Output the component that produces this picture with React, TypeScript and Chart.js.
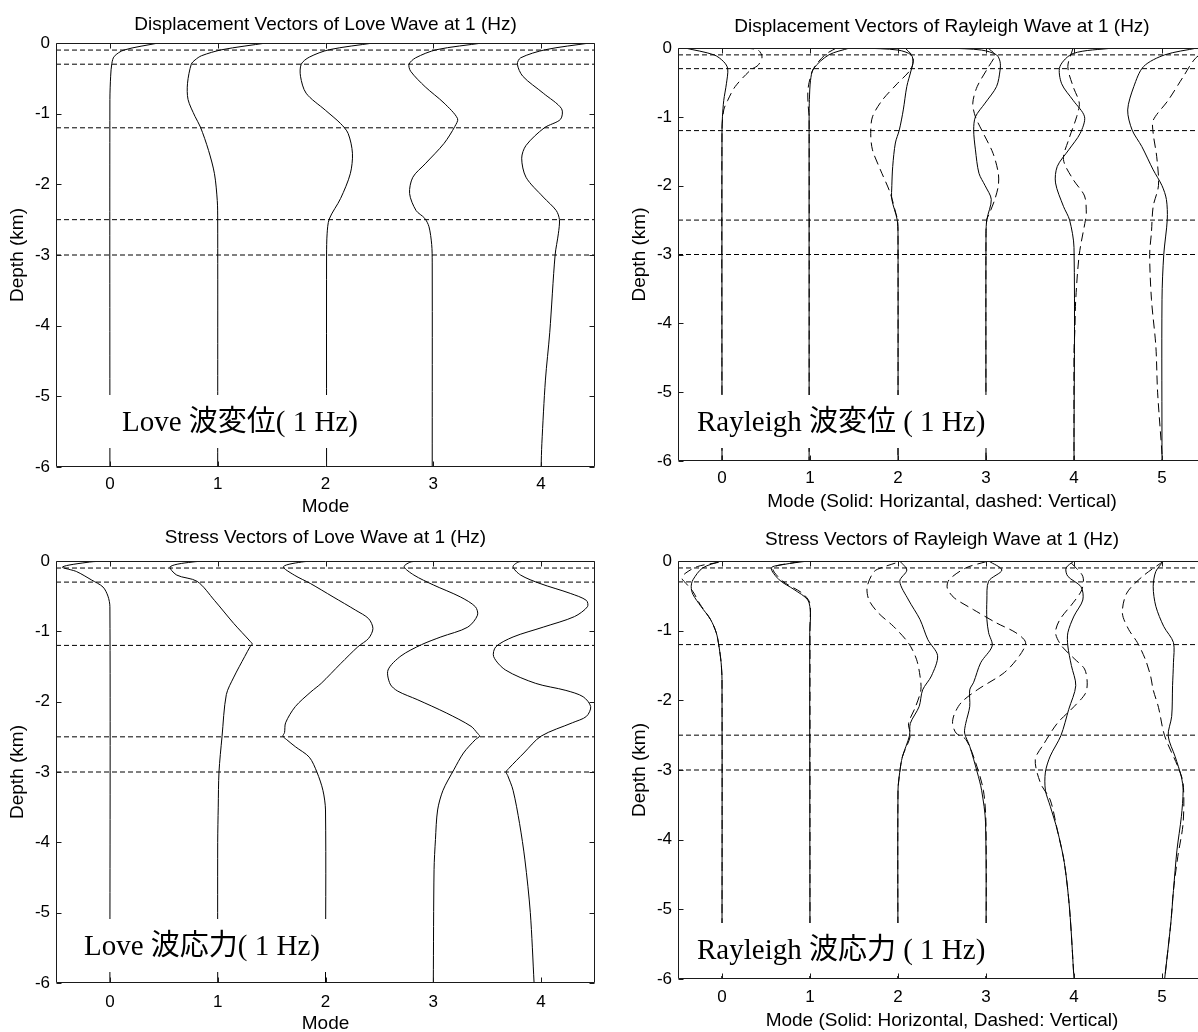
import { useEffect, useRef } from "react";
import { Chart, registerables } from "chart.js";

Chart.register(...registerables);

// ---- shared axis values ----
const layerDepths = [-0.1, -0.3, -1.2, -2.5, -3.0];
const depthTicks = [0, -1, -2, -3, -4, -5, -6];
const loveModes = [0, 1, 2, 3, 4];
const rayleighModes = [0, 1, 2, 3, 4, 5];

// ---- curves: [mode-axis position, depth (km)] ----
// Love wave displacement
const loveDisp0 = [[0.45, 0], [0.13, -0.1], [0.04, -0.19], [0.018, -0.29], [0.007, -0.47], [0, -0.8], [0, -6]];
const loveDisp1 = [[1.45, 0], [1.04, -0.095], [0.85, -0.18], [0.79, -0.24], [0.755, -0.3], [0.72, -0.57], [0.725, -0.8], [0.79, -1.04], [0.84, -1.19], [0.915, -1.52], [0.97, -1.85], [0.996, -2.23], [1.0, -2.5], [1.0, -6]];
const loveDisp2 = [[2.443, 0], [2.035, -0.095], [1.85, -0.2], [1.775, -0.3], [1.768, -0.47], [1.82, -0.71], [1.998, -0.95], [2.14, -1.14], [2.21, -1.28], [2.25, -1.56], [2.23, -1.85], [2.14, -2.2], [2.035, -2.49], [2.015, -2.7], [2.01, -3.0], [2.01, -6]];
const loveDisp3 = [[3.456, 0], [3.03, -0.095], [2.836, -0.21], [2.775, -0.3], [2.79, -0.4], [2.925, -0.62], [3.1, -0.85], [3.225, -1.07], [3.2, -1.18], [3.1, -1.42], [2.925, -1.71], [2.81, -1.9], [2.78, -2.13], [2.84, -2.37], [2.92, -2.48], [2.96, -2.6], [2.985, -2.85], [2.99, -3.1], [2.99, -6]];
const loveDisp4 = [[4.45, 0], [4.04, -0.095], [3.81, -0.21], [3.78, -0.3], [3.83, -0.47], [4.02, -0.71], [4.19, -0.93], [4.18, -1.08], [4.03, -1.2], [3.86, -1.45], [3.82, -1.63], [3.86, -1.9], [4.02, -2.18], [4.14, -2.37], [4.17, -2.5], [4.16, -2.7], [4.13, -3.0], [4.08, -4.1], [4.04, -4.77], [4.007, -5.67], [4.0, -6]];

// Rayleigh wave displacement (H = horizontal, V = vertical)
const rayDisp0H = [[-0.42, 0], [-0.09, -0.1], [0.02, -0.2], [0.065, -0.3], [0.05, -0.52], [0.02, -0.76], [0.005, -1.0], [0, -1.2], [0, -6]];
const rayDisp0V = [[0.26, 0], [0.41, -0.03], [0.455, -0.13], [0.41, -0.25], [0.325, -0.32], [0.15, -0.56], [0.065, -0.76], [0.02, -0.9], [0, -1.2], [0, -6]];
const rayDisp1H = [[1.45, 0], [1.214, -0.1], [1.04, -0.3], [1.006, -0.47], [0.993, -0.75], [0.99, -1.0], [0.99, -6]];
const rayDisp1V = [[1.3, 0], [1.17, -0.1], [1.04, -0.3], [0.99, -0.5], [0.975, -0.65], [0.98, -0.85], [0.99, -1.0], [0.99, -6]];
const rayDisp2H = [[1.6, 0], [2.0, -0.03], [2.15, -0.1], [2.17, -0.2], [2.15, -0.32], [2.1, -0.56], [2.06, -0.9], [2.015, -1.19], [1.97, -1.38], [1.94, -1.72], [1.93, -2.0], [1.93, -2.2], [1.99, -2.49], [2.0, -2.7], [2.0, -6]];
const rayDisp2V = [[2.08, 0], [2.17, -0.13], [2.15, -0.3], [1.99, -0.52], [1.82, -0.76], [1.71, -1.0], [1.69, -1.24], [1.71, -1.48], [1.8, -1.77], [1.91, -2.1], [1.975, -2.4], [1.995, -2.5], [2.0, -2.7], [2.0, -6]];
const rayDisp3H = [[2.56, 0], [2.95, -0.03], [3.12, -0.1], [3.16, -0.2], [3.16, -0.32], [3.12, -0.56], [2.99, -0.8], [2.88, -1.0], [2.86, -1.19], [2.88, -1.48], [2.92, -1.82], [2.99, -2.0], [3.06, -2.2], [3.01, -2.49], [3.0, -2.7], [3.0, -6]];
const rayDisp3V = [[3.02, 0], [3.1, -0.1], [3.03, -0.27], [2.9, -0.56], [2.85, -0.8], [2.88, -1.0], [2.97, -1.24], [3.08, -1.53], [3.14, -1.82], [3.14, -2.0], [3.1, -2.2], [3.04, -2.4], [3.01, -2.49], [3.0, -2.7], [3.0, -6]];
const rayDisp4H = [[4.44, 0], [3.99, -0.08], [3.84, -0.27], [3.86, -0.52], [3.99, -0.76], [4.12, -1.0], [4.07, -1.24], [3.94, -1.48], [3.81, -1.72], [3.79, -1.96], [3.88, -2.3], [3.95, -2.5], [4.0, -2.9], [4.0, -6]];
const rayDisp4V = [[3.99, 0], [3.93, -0.27], [3.99, -0.56], [4.06, -0.8], [4.03, -1.0], [3.94, -1.33], [3.88, -1.62], [3.99, -1.91], [4.12, -2.15], [4.14, -2.4], [4.13, -2.5], [4.06, -3.0], [4.02, -3.65], [4.01, -4.1], [4.0, -4.4], [4.0, -6]];
const rayDisp5H = [[5.4, 0], [5.03, -0.1], [4.79, -0.27], [4.68, -0.56], [4.61, -0.9], [4.66, -1.19], [4.77, -1.43], [4.9, -1.77], [5.0, -2.0], [5.05, -2.2], [5.06, -2.49], [5.02, -3.0], [5.0, -3.65], [5.0, -6]];
const rayDisp5V = [[5.55, 0], [5.38, -0.15], [5.24, -0.42], [5.07, -0.76], [4.9, -1.05], [4.9, -1.24], [4.94, -1.58], [4.96, -2.0], [4.9, -2.3], [4.88, -2.68], [4.86, -3.0], [4.88, -3.65], [4.93, -4.33], [4.95, -5.0], [5.0, -5.9], [5.0, -6]];

// Love wave stress
const loveStress0 = [[-0.035, 0], [-0.19, -0.015], [-0.44, -0.085], [-0.31, -0.15], [-0.17, -0.27], [-0.064, -0.37], [-0.018, -0.5], [0, -0.65], [0, -6]];
const loveStress1 = [[0.97, 0], [0.79, -0.01], [0.56, -0.08], [0.62, -0.2], [0.81, -0.29], [0.97, -0.56], [1.15, -0.89], [1.3, -1.14], [1.32, -1.18], [1.3, -1.22], [1.25, -1.36], [1.15, -1.65], [1.08, -1.9], [1.04, -2.5], [1.012, -3.0], [1.005, -3.5], [1.0, -4.0], [1.0, -6]];
const loveStress2 = [[1.96, 0], [1.8, -0.01], [1.61, -0.08], [1.71, -0.2], [1.86, -0.32], [2.07, -0.51], [2.28, -0.7], [2.4, -0.82], [2.44, -0.96], [2.4, -1.1], [2.3, -1.22], [2.14, -1.46], [1.96, -1.74], [1.865, -1.86], [1.72, -2.07], [1.63, -2.3], [1.62, -2.44], [1.605, -2.49], [1.64, -2.54], [1.72, -2.64], [1.85, -2.79], [1.92, -3.0], [1.976, -3.26], [2.0, -3.54], [2.0, -6]];
const loveStress3 = [[2.94, 0], [2.8, -0.01], [2.73, -0.08], [2.82, -0.2], [3.0, -0.34], [3.25, -0.51], [3.39, -0.65], [3.41, -0.77], [3.32, -0.94], [3.07, -1.08], [2.89, -1.19], [2.7, -1.35], [2.58, -1.55], [2.6, -1.75], [2.67, -1.85], [2.85, -1.97], [3.12, -2.16], [3.35, -2.35], [3.41, -2.45], [3.43, -2.49], [3.39, -2.54], [3.28, -2.73], [3.19, -2.97], [3.09, -3.26], [3.04, -3.54], [3.02, -3.96], [3.007, -4.39], [3.0, -6]];
const loveStress4 = [[3.96, 0], [3.8, -0.01], [3.74, -0.08], [3.81, -0.2], [3.99, -0.32], [4.27, -0.46], [4.42, -0.56], [4.43, -0.65], [4.31, -0.79], [4.02, -0.94], [3.74, -1.08], [3.58, -1.22], [3.56, -1.36], [3.67, -1.55], [3.95, -1.74], [4.23, -1.84], [4.39, -1.93], [4.46, -2.07], [4.42, -2.21], [4.29, -2.3], [4.0, -2.49], [3.84, -2.73], [3.7, -2.95], [3.675, -3.0], [3.69, -3.05], [3.74, -3.26], [3.8, -3.73], [3.85, -4.25], [3.9, -5.0], [3.935, -6]];

// Rayleigh wave stress (H = horizontal, V = vertical)
const rayStress0H = [[-0.01, 0], [-0.22, -0.1], [-0.33, -0.27], [-0.35, -0.37], [-0.33, -0.48], [-0.24, -0.65], [-0.13, -0.84], [-0.065, -1.03], [-0.035, -1.22], [-0.01, -1.46], [0, -1.7], [0, -6]];
const rayStress0V = [[-0.04, -0.02], [-0.28, -0.08], [-0.42, -0.18], [-0.455, -0.25], [-0.41, -0.32], [-0.33, -0.44], [-0.25, -0.62], [-0.13, -0.84], [-0.065, -1.03], [-0.035, -1.22], [-0.01, -1.46], [0, -1.7], [0, -6]];
const rayStress1H = [[0.975, 0], [0.7, -0.05], [0.56, -0.1], [0.65, -0.27], [0.82, -0.41], [0.975, -0.56], [1.005, -0.75], [0.997, -1.03], [1.0, -6]];
const rayStress1V = [[0.87, -0.01], [0.58, -0.1], [0.69, -0.29], [0.91, -0.46], [0.997, -0.6], [1.0, -0.9], [1.0, -6]];
const rayStress2H = [[2.02, 0], [2.1, -0.13], [2.02, -0.29], [2.12, -0.56], [2.25, -0.84], [2.34, -1.13], [2.45, -1.36], [2.38, -1.65], [2.28, -1.85], [2.24, -2.09], [2.14, -2.33], [2.13, -2.51], [2.05, -2.81], [2.02, -3.03], [2.0, -3.29], [2.0, -6]];
const rayStress2V = [[1.97, -0.03], [1.85, -0.08], [1.73, -0.15], [1.65, -0.37], [1.67, -0.56], [1.78, -0.75], [1.95, -0.94], [2.12, -1.18], [2.21, -1.41], [2.25, -1.65], [2.26, -1.85], [2.2, -2.09], [2.12, -2.33], [2.14, -2.51], [2.05, -2.81], [2.02, -3.03], [2.0, -3.3], [2.0, -6]];
const rayStress3H = [[3.03, 0], [3.18, -0.13], [3.03, -0.29], [3.01, -0.56], [3.01, -0.84], [3.03, -1.03], [3.07, -1.22], [2.94, -1.46], [2.86, -1.74], [2.815, -1.85], [2.815, -2.09], [2.77, -2.33], [2.757, -2.47], [2.815, -2.66], [2.9, -3.03], [2.95, -3.29], [2.995, -3.76], [3.0, -6]];
const rayStress3V = [[3.0, -0.01], [2.77, -0.1], [2.58, -0.27], [2.56, -0.39], [2.64, -0.53], [2.86, -0.7], [3.12, -0.89], [3.34, -1.03], [3.45, -1.17], [3.38, -1.36], [3.21, -1.6], [2.9, -1.85], [2.72, -2.03], [2.64, -2.2], [2.62, -2.33], [2.66, -2.47], [2.77, -2.56], [2.87, -2.85], [2.97, -3.29], [3.0, -3.8], [3.0, -6]];
const rayStress4H = [[4.0, 0], [3.91, -0.1], [3.93, -0.22], [4.08, -0.37], [4.1, -0.56], [4.0, -0.79], [3.93, -1.03], [3.93, -1.22], [3.97, -1.5], [4.02, -1.79], [3.94, -2.13], [3.85, -2.51], [3.73, -2.8], [3.675, -3.03], [3.675, -3.29], [3.73, -3.52], [3.81, -3.86], [3.89, -4.33], [3.95, -5.0], [4.0, -6]];
const rayStress4V = [[3.97, -0.03], [4.1, -0.22], [4.09, -0.41], [3.99, -0.6], [3.84, -0.84], [3.79, -1.03], [3.86, -1.22], [4.01, -1.41], [4.12, -1.55], [4.15, -1.74], [4.13, -1.9], [4.0, -2.09], [3.81, -2.33], [3.66, -2.62], [3.56, -2.85], [3.62, -3.19], [3.73, -3.43], [3.81, -3.86], [3.89, -4.33], [3.95, -5.0], [4.0, -6]];
const rayStress5H = [[5.02, 0], [4.93, -0.15], [4.9, -0.37], [4.93, -0.65], [5.02, -0.94], [5.13, -1.17], [5.13, -1.46], [5.12, -1.79], [5.11, -2.23], [5.07, -2.51], [5.15, -2.81], [5.22, -3.1], [5.24, -3.29], [5.22, -3.67], [5.17, -4.15], [5.13, -4.73], [5.1, -5.2], [5.03, -6]];
const rayStress5V = [[5.02, 0], [4.78, -0.22], [4.6, -0.46], [4.55, -0.75], [4.62, -0.98], [4.72, -1.17], [4.81, -1.41], [4.87, -1.65], [4.9, -1.85], [4.96, -2.1], [5.03, -2.51], [5.18, -2.95], [5.24, -3.19], [5.24, -3.76], [5.18, -4.24], [5.13, -4.73], [5.1, -5.2], [5.03, -6]];

// ---- text ----
const SANS = '"Liberation Sans", Arial, Helvetica, sans-serif';
const NOTE_FONT = '29px "Liberation Serif", "Times New Roman", "Noto Sans CJK JP", serif';
const TITLE_SIZE = 19;
const TICK_SIZE = 17;

const panels = [
  {
    title: "Displacement Vectors of Love Wave at 1 (Hz)",
    xTitle: "Mode",
    note: "Love 波変位( 1 Hz)",
    modes: loveModes,
    xMax: 4.5,
    solid: [loveDisp0, loveDisp1, loveDisp2, loveDisp3, loveDisp4],
    dashed: [],
    canvas: { left: 0, top: 0, width: 600, height: 525 },
    plot: { left: 56, top: 43, right: 595, bottom: 467 },
    titleY: 25, tickY: 484, xTitleY: 507, yTitleX: 18,
    noteX: 122, noteY: 423,
  },
  {
    title: "Displacement Vectors of Rayleigh Wave at 1 (Hz)",
    xTitle: "Mode (Solid: Horizantal, dashed: Vertical)",
    note: "Rayleigh 波変位 ( 1 Hz)",
    modes: rayleighModes,
    xMax: 5.5,
    solid: [rayDisp0H, rayDisp1H, rayDisp2H, rayDisp3H, rayDisp4H, rayDisp5H],
    dashed: [rayDisp0V, rayDisp1V, rayDisp2V, rayDisp3V, rayDisp4V, rayDisp5V],
    canvas: { left: 600, top: 0, width: 620, height: 525 },
    plot: { left: 678, top: 48, right: 1206, bottom: 461 },
    titleY: 27, tickY: 478, xTitleY: 502, yTitleX: 640,
    noteX: 697, noteY: 423,
  },
  {
    title: "Stress Vectors of Love Wave at 1 (Hz)",
    xTitle: "Mode",
    note: "Love 波応力( 1 Hz)",
    modes: loveModes,
    xMax: 4.5,
    solid: [loveStress0, loveStress1, loveStress2, loveStress3, loveStress4],
    dashed: [],
    canvas: { left: 0, top: 520, width: 600, height: 530 },
    plot: { left: 56, top: 561, right: 595, bottom: 983 },
    titleY: 538, tickY: 1002, xTitleY: 1024, yTitleX: 18,
    noteX: 84, noteY: 947,
  },
  {
    title: "Stress Vectors of Rayleigh Wave at 1 (Hz)",
    xTitle: "Mode (Solid: Horizontal, Dashed: Vertical)",
    note: "Rayleigh 波応力 ( 1 Hz)",
    modes: rayleighModes,
    xMax: 5.5,
    solid: [rayStress0H, rayStress1H, rayStress2H, rayStress3H, rayStress4H, rayStress5H],
    dashed: [rayStress0V, rayStress1V, rayStress2V, rayStress3V, rayStress4V, rayStress5V],
    canvas: { left: 600, top: 520, width: 620, height: 530 },
    plot: { left: 678, top: 561, right: 1206, bottom: 979 },
    titleY: 540, tickY: 997, xTitleY: 1021, yTitleX: 640,
    noteX: 697, noteY: 951,
  },
];

// Frame with inward tick marks plus the white-backed caption inside the axes
const framePlugin = {
  id: "matlabFrame",
  afterDatasetsDraw(chart: any, _args: any, opts: any) {
    const { ctx, chartArea } = chart;
    const xs = chart.scales.x;
    const ys = chart.scales.y;
    const L = Math.round(chartArea.left) + 0.5;
    const R = Math.round(chartArea.right) - 0.5;
    const T = Math.round(chartArea.top) + 0.5;
    const B = Math.round(chartArea.bottom) - 0.5;

    // caption
    ctx.save();
    ctx.font = NOTE_FONT;
    const w = ctx.measureText(opts.text).width;
    const tx = opts.x;
    const ty = opts.y;
    ctx.fillStyle = "#fff";
    ctx.fillRect(tx - 22, ty - 28, w + 36, 53);
    ctx.fillStyle = "#000";
    ctx.textBaseline = "middle";
    ctx.textAlign = "left";
    ctx.fillText(opts.text, tx, ty);
    ctx.restore();

    // axes box and ticks
    ctx.save();
    ctx.strokeStyle = "#1a1a1a";
    ctx.lineWidth = 1;
    ctx.beginPath();
    ctx.rect(L, T, R - L, B - T);
    const tl = 5;
    xs.ticks.forEach((t: any) => {
      const px = Math.round(xs.getPixelForValue(t.value)) + 0.5;
      ctx.moveTo(px, B); ctx.lineTo(px, B - tl);
      ctx.moveTo(px, T); ctx.lineTo(px, T + tl);
    });
    ys.ticks.forEach((t: any) => {
      const py = Math.round(ys.getPixelForValue(t.value)) + 0.5;
      ctx.moveTo(L, py); ctx.lineTo(L + tl, py);
      ctx.moveTo(R, py); ctx.lineTo(R - tl, py);
    });
    ctx.stroke();
    ctx.restore();
  },
};

function buildConfig(p: any) {
  const c = p.canvas;
  const l = p.plot.left - c.left;
  const t = p.plot.top - c.top;
  const r = p.plot.right - c.left;
  const b = p.plot.bottom - c.top;
  const lh = TITLE_SIZE * 1.2;
  const tlh = TICK_SIZE * 1.2;

  const datasets: any[] = [];
  layerDepths.forEach((d) => {
    datasets.push({
      data: [{ x: -0.5, y: d }, { x: p.xMax, y: d }],
      borderColor: "#000", borderWidth: 1, borderDash: [5, 3],
      pointRadius: 0, showLine: true, tension: 0,
    });
  });
  p.solid.forEach((curve: number[][]) => {
    datasets.push({
      data: curve.map(([x, y]) => ({ x, y })),
      borderColor: "#000", borderWidth: 1,
      pointRadius: 0, showLine: true, tension: 0.3,
    });
  });
  p.dashed.forEach((curve: number[][]) => {
    datasets.push({
      data: curve.map(([x, y]) => ({ x, y })),
      borderColor: "#000", borderWidth: 1, borderDash: [9, 5],
      pointRadius: 0, showLine: true, tension: 0.3,
    });
  });

  return {
    type: "scatter",
    data: { datasets },
    options: {
      animation: false,
      responsive: false,
      events: [],
      layout: { padding: { left: 0, top: 0, right: c.width - r, bottom: 0 } },
      plugins: {
        legend: { display: false },
        tooltip: { enabled: false },
        title: {
          display: true,
          text: p.title,
          fullSize: false,
          color: "#000",
          font: { family: SANS, size: TITLE_SIZE, weight: "normal", lineHeight: 1.2 },
          padding: { top: p.titleY - c.top - lh / 2, bottom: t - (p.titleY - c.top) - lh / 2 },
        },
        matlabFrame: { text: p.note, x: p.noteX - c.left, y: p.noteY - c.top },
      },
      scales: {
        x: {
          type: "linear",
          position: "bottom",
          min: -0.5,
          max: p.xMax,
          afterBuildTicks: (s: any) => { s.ticks = p.modes.map((v: number) => ({ value: v })); },
          afterFit: (s: any) => { s.height = c.height - b; },
          grid: { display: false, drawTicks: false },
          border: { display: false },
          ticks: {
            color: "#000",
            font: { family: SANS, size: TICK_SIZE, lineHeight: 1.2 },
            padding: p.tickY - c.top - b - tlh / 2,
            maxRotation: 0,
            autoSkip: false,
          },
          title: {
            display: true,
            text: p.xTitle,
            color: "#000",
            font: { family: SANS, size: TITLE_SIZE, lineHeight: 1.2 },
            padding: { top: 0, bottom: c.height - (p.xTitleY - c.top) - lh / 2 },
          },
        },
        y: {
          type: "linear",
          position: "left",
          min: -6,
          max: 0,
          afterBuildTicks: (s: any) => { s.ticks = depthTicks.map((v) => ({ value: v })); },
          afterFit: (s: any) => { s.width = l; },
          grid: { display: false, drawTicks: false },
          border: { display: false },
          ticks: {
            color: "#000",
            font: { family: SANS, size: TICK_SIZE, lineHeight: 1.2 },
            padding: 6,
          },
          title: {
            display: true,
            text: "Depth (km)",
            color: "#000",
            font: { family: SANS, size: TITLE_SIZE, lineHeight: 1.2 },
            padding: { top: p.yTitleX - c.left - lh / 2, bottom: 0 },
          },
        },
      },
    },
    plugins: [framePlugin],
  };
}

function Panel({ p }: { p: any }) {
  const ref = useRef<HTMLCanvasElement | null>(null);
  useEffect(() => {
    if (!ref.current) return;
    const chart = new Chart(ref.current, buildConfig(p) as any);
    return () => chart.destroy();
  }, [p]);
  const c = p.canvas;
  return (
    <canvas
      ref={ref}
      width={c.width}
      height={c.height}
      style={{ position: "absolute", left: c.left, top: c.top, width: c.width, height: c.height }}
    />
  );
}

export default function App() {
  return (
    <div
      style={{
        position: "fixed",
        left: 0,
        top: 0,
        width: 1198,
        height: 1032,
        overflow: "hidden",
        background: "#fff",
      }}
    >
      {panels.map((p, i) => (
        <Panel key={i} p={p} />
      ))}
    </div>
  );
}
